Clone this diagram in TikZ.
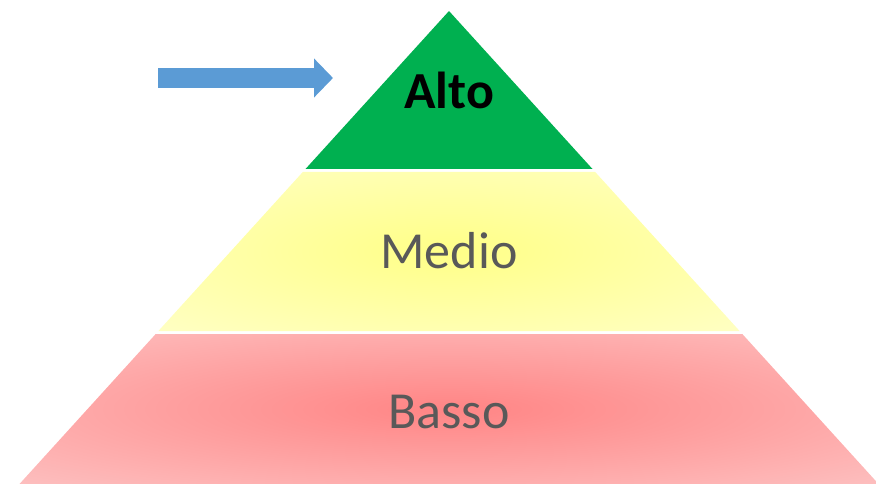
\documentclass[tikz,border=0pt]{standalone}
\usepackage{fontspec}
\setmainfont{Carlito}
\usepackage{tikz}
\usetikzlibrary{arrows.meta}

\definecolor{altogreen}{RGB}{0,176,80}
\definecolor{arrowblue}{RGB}{91,155,213}
\definecolor{labelgray}{RGB}{89,89,89}
\pgfdeclareradialshading{medioshade}{\pgfpoint{0bp}{0bp}}{rgb(0bp)=(1,1,0.53); rgb(50bp)=(1,1,0.86)}
\pgfdeclareradialshading{bassoshade}{\pgfpoint{0bp}{0bp}}{rgb(0bp)=(1,0.52,0.52); rgb(50bp)=(0.99,0.84,0.84)}

\tikzset{
  tierlabel/.style={font=\fontsize{52}{60}\selectfont, text=labelgray, inner sep=0pt},
}

\begin{document}
\begin{tikzpicture}[x=1pt, y=-1pt]
\useasboundingbox (0,0) rectangle (876,484);

% tiers of the pyramid
\fill[altogreen] (449,11) -- (592.5,169) -- (305.5,169) -- cycle;
\shade[shading=medioshade] (302.8,172) -- (595.2,172) -- (739.6,331) -- (158.4,331) -- cycle;
\shade[shading=bassoshade] (155.7,334) -- (742.3,334) -- (878.5,484) -- (19.5,484) -- cycle;

% labels
\node[tierlabel, text=black, font=\fontsize{52}{60}\selectfont\bfseries] (alto) at (449,90) {Alto};
\node[tierlabel] (medio) at (449,251) {Medio};
\node[tierlabel] (basso) at (449,412) {Basso};

% pointer
\coordinate (arrowtail) at (158,78);
\coordinate (arrowtip) at (333,78);
\draw[arrowblue, line width=20pt, -{Triangle[length=19pt, width=38pt]}] (arrowtail) -- (arrowtip);
\end{tikzpicture}
\end{document}
